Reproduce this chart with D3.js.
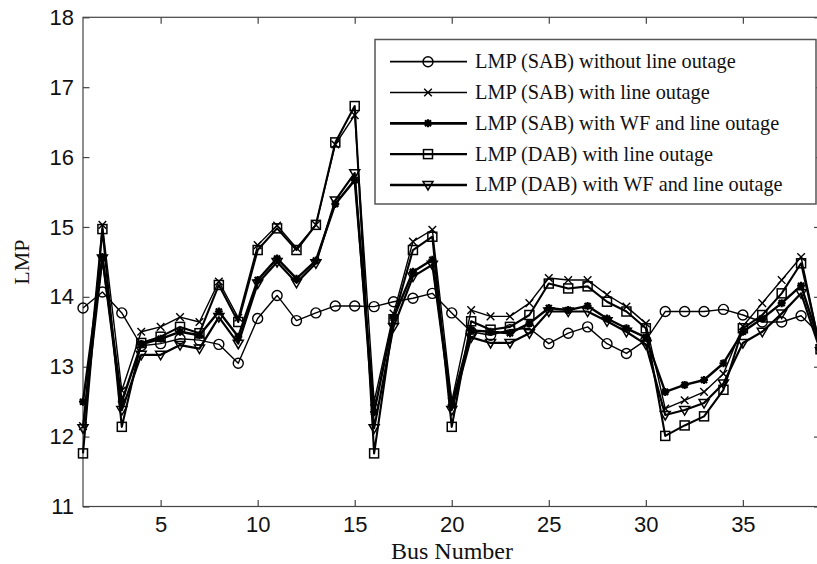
<!DOCTYPE html>
<meta charset="utf-8">
<style>
body { margin: 0; background: #fff; }
.axis text { font-family: "Liberation Sans", Arial, sans-serif; font-size: 22px; fill: #111; }
.axis path, .axis line { stroke: #444; stroke-width: 1.2; }
.lbl { font-family: "Liberation Serif", "Times New Roman", serif; fill: #111; }
</style>
<body>
<div id="graph"></div>
<script src="https://cdn.jsdelivr.net/npm/d3@7"></script>
<script>
// bus numbers 1..39
var buses = d3.range(1, 40);
var seriesNames = ["LMP (SAB) without line outage", "LMP (SAB) with line outage",
  "LMP (SAB) with WF and line outage", "LMP (DAB) with line outage", "LMP (DAB) with WF and line outage"];
var markers = ["circle", "x", "asterisk", "square", "triangle"];

var sabNoOutage = [13.84, 14.07, 13.77, 13.30, 13.33, 13.40, 13.38, 13.32, 13.05, 13.69,
  14.02, 13.66, 13.77, 13.87, 13.87, 13.86, 13.93, 13.98, 14.05, 13.77,
  13.50, 13.45, 13.53, 13.55, 13.33, 13.48, 13.57, 13.33, 13.19, 13.38,
  13.79, 13.79, 13.79, 13.82, 13.74, 13.64, 13.64, 13.73, 13.45];
var sabOutage = [12.15, 15.03, 12.66, 13.50, 13.57, 13.71, 13.64, 14.22, 13.70, 14.74,
  15.02, 14.70, 15.03, 16.18, 16.60, 12.50, 13.76, 14.79, 14.96, 12.50,
  13.81, 13.72, 13.72, 13.91, 14.27, 14.24, 14.24, 14.03, 13.86, 13.62,
  12.40, 12.52, 12.64, 12.90, 13.58, 13.91, 14.24, 14.57, 13.25];
var sabWfOutage = [12.50, 14.57, 12.50, 13.32, 13.40, 13.50, 13.45, 13.79, 13.43, 14.24,
  14.55, 14.26, 14.52, 15.33, 15.67, 12.35, 13.70, 14.36, 14.53, 12.45,
  13.52, 13.50, 13.48, 13.62, 13.84, 13.81, 13.87, 13.69, 13.55, 13.42,
  12.64, 12.74, 12.81, 13.05, 13.50, 13.69, 13.91, 14.16, 13.30];
var dabOutage = [11.76, 14.97, 12.14, 13.34, 13.43, 13.57, 13.48, 14.17, 13.64, 14.67,
  14.98, 14.67, 15.03, 16.21, 16.73, 11.76, 13.68, 14.67, 14.86, 12.14,
  13.65, 13.53, 13.57, 13.74, 14.19, 14.12, 14.15, 13.93, 13.79, 13.55,
  12.01, 12.16, 12.29, 12.67, 13.55, 13.74, 14.05, 14.48, 13.25];
var dabWfOutage = [12.12, 14.55, 12.38, 13.17, 13.17, 13.31, 13.26, 13.71, 13.33, 14.19,
  14.50, 14.20, 14.48, 15.38, 15.77, 12.12, 13.57, 14.29, 14.46, 12.38,
  13.42, 13.34, 13.34, 13.48, 13.79, 13.79, 13.79, 13.65, 13.50, 13.32,
  12.31, 12.38, 12.48, 12.76, 13.34, 13.50, 13.76, 14.05, 13.22];
var allSeries = [sabNoOutage, sabOutage, sabWfOutage, dabOutage, dabWfOutage];
var widths = [1.4, 1.4, 2.4, 2.1, 2.2];

var yTicks = [11, 12, 13, 14, 15, 16, 17, 18];
var xTicks = [5, 10, 15, 20, 25, 30, 35];

var W = 817, H = 564;
var L = 83, R = 820.5, T = 17.3, B = 506.5;

var svg = d3.select("#graph").append("svg").attr("width", W).attr("height", H);

var x = d3.scaleLinear().domain([1, 39]).range([L, R]);
var y = d3.scaleLinear().domain([11, 18]).range([B, T]);

svg.append("clipPath").attr("id", "clip")
  .append("rect").attr("x", L - 8).attr("y", T - 8).attr("width", R - L + 16).attr("height", B - T + 16);

// axes, ticks pointing inward
svg.append("g").attr("class", "axis").attr("transform", "translate(0," + B + ")")
  .call(d3.axisBottom(x).tickValues(xTicks).tickSizeInner(-6.5).tickSizeOuter(0).tickPadding(10));
svg.append("g").attr("class", "axis").attr("transform", "translate(0," + T + ")")
  .call(d3.axisTop(x).tickValues(xTicks).tickSizeInner(-6.5).tickSizeOuter(0).tickFormat(""));
svg.append("g").attr("class", "axis").attr("transform", "translate(" + L + ",0)")
  .call(d3.axisLeft(y).tickValues(yTicks).tickSizeInner(-6.5).tickSizeOuter(0).tickPadding(9).tickFormat(d3.format("d")));
svg.append("g").attr("class", "axis").attr("transform", "translate(" + R + ",0)")
  .call(d3.axisRight(y).tickValues(yTicks).tickSizeInner(-6.5).tickSizeOuter(0).tickFormat(""));
svg.selectAll(".axis .domain").remove();
svg.append("rect").attr("x", L).attr("y", T).attr("width", R - L).attr("height", B - T)
  .attr("fill", "none").attr("stroke", "#444").attr("stroke-width", 1.2);

function drawMarker(g, type, cx, cy) {
  if (type == "circle") {
    g.append("circle").attr("cx", cx).attr("cy", cy).attr("r", 5)
      .attr("fill", "none").attr("stroke", "#000").attr("stroke-width", 1.4);
  } else if (type == "x") {
    var s = 3.8;
    g.append("path").attr("d", "M" + (cx - s) + "," + (cy - s) + "L" + (cx + s) + "," + (cy + s) +
      "M" + (cx - s) + "," + (cy + s) + "L" + (cx + s) + "," + (cy - s))
      .attr("stroke", "#000").attr("stroke-width", 1.4);
  } else if (type == "asterisk") {
    var a = 4, d = 3;
    g.append("path").attr("d", "M" + (cx - a) + "," + cy + "L" + (cx + a) + "," + cy +
      "M" + cx + "," + (cy - a) + "L" + cx + "," + (cy + a) +
      "M" + (cx - d) + "," + (cy - d) + "L" + (cx + d) + "," + (cy + d) +
      "M" + (cx - d) + "," + (cy + d) + "L" + (cx + d) + "," + (cy - d))
      .attr("stroke", "#000").attr("stroke-width", 2.2);
  } else if (type == "square") {
    g.append("rect").attr("x", cx - 4.5).attr("y", cy - 4.5).attr("width", 9).attr("height", 9)
      .attr("fill", "none").attr("stroke", "#000").attr("stroke-width", 1.5);
  } else {
    g.append("path").attr("d", "M" + (cx - 5) + "," + (cy - 3.5) + "L" + (cx + 5) + "," + (cy - 3.5) +
      "L" + cx + "," + (cy + 5) + "Z")
      .attr("fill", "none").attr("stroke", "#000").attr("stroke-width", 1.5);
  }
}

var plot = svg.append("g").attr("clip-path", "url(#clip)");
var line = d3.line().x((d, i) => x(buses[i])).y(d => y(d));

allSeries.forEach(function(vals, k) {
  plot.append("path").datum(vals).attr("d", line)
    .attr("fill", "none").attr("stroke", "#000").attr("stroke-width", widths[k])
    .attr("stroke-linejoin", "round");
  var mg = plot.append("g");
  vals.forEach(function(v, i) { drawMarker(mg, markers[k], x(buses[i]), y(v)); });
});

// legend
var lg = svg.append("g");
lg.append("rect").attr("x", 375).attr("y", 39.5).attr("width", 441).attr("height", 164.5)
  .attr("fill", "#fff").attr("stroke", "#555").attr("stroke-width", 1.5);
seriesNames.forEach(function(name, i) {
  var ly = 61.7 + i * 30.8;
  lg.append("line").attr("x1", 390).attr("x2", 467).attr("y1", ly).attr("y2", ly)
    .attr("stroke", "#000").attr("stroke-width", widths[i] + 0.3);
  drawMarker(lg, markers[i], 428, ly);
  lg.append("text").attr("class", "lbl").attr("x", 475).attr("y", ly + 6.5)
    .style("font-size", "20.3px").text(name);
});

svg.append("text").attr("class", "lbl").attr("x", 452).attr("y", 559)
  .attr("text-anchor", "middle").style("font-size", "24px").text("Bus Number");
svg.append("text").attr("class", "lbl")
  .attr("transform", "translate(29,262) rotate(-90)")
  .attr("text-anchor", "middle").style("font-size", "22px").text("LMP");
</script>
</body>
</html>
